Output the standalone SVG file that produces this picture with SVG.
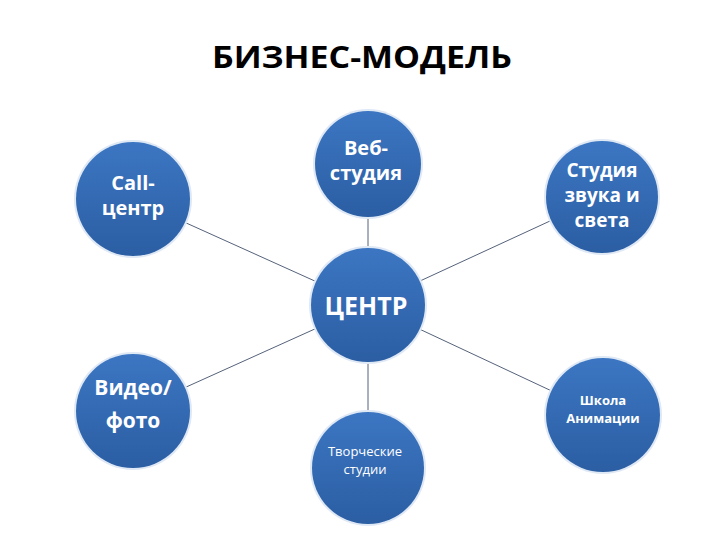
<svg xmlns="http://www.w3.org/2000/svg" width="720" height="540" viewBox="0 0 720 540">
<style>
.node{fill:url(#g);}
.halo{fill:#dfe8f5;}
.lbl{font-family:"Open Sans","Liberation Sans",sans-serif;fill:#ffffff;text-anchor:middle;font-weight:bold;}
.thin{font-weight:normal;}
.conn{stroke:#55627a;stroke-width:1;fill:none;}
.title{font-family:"Open Sans","Liberation Sans",sans-serif;font-weight:bold;font-size:31px;fill:#000;text-anchor:middle;}
</style>
<defs>
<linearGradient id="g" x1="0" y1="0" x2="0" y2="1">
<stop offset="0" stop-color="#3c76c2"/>
<stop offset="1" stop-color="#2b5ea3"/>
</linearGradient>
</defs>
<rect width="720" height="540" fill="#ffffff"/>
<text class="title" x="362" y="68" textLength="300" lengthAdjust="spacingAndGlyphs">БИЗНЕС-МОДЕЛЬ</text>
<g id="connectors">
<line class="conn" x1="368" y1="305" x2="368" y2="164"/>
<line class="conn" x1="368" y1="305" x2="133" y2="199"/>
<line class="conn" x1="368" y1="305" x2="602" y2="197"/>
<line class="conn" x1="368" y1="305" x2="133" y2="411"/>
<line class="conn" x1="368" y1="305" x2="603" y2="415"/>
<line class="conn" x1="368" y1="305" x2="368" y2="468"/>
</g>
<g id="node-center">
<circle class="halo" cx="368" cy="305" r="59"/>
<circle class="node" cx="368" cy="305" r="57"/>
<text class="lbl" x="366" y="315" font-size="25">ЦЕНТР</text>
</g>
<g id="node-web">
<circle class="halo" cx="368" cy="164" r="55"/>
<circle class="node" cx="368" cy="164" r="53"/>
<text class="lbl" x="366" y="155" font-size="20">Веб-</text>
<text class="lbl" x="366" y="180" font-size="20">студия</text>
</g>
<g id="node-call">
<circle class="halo" cx="133" cy="199" r="59"/>
<circle class="node" cx="133" cy="199" r="57"/>
<text class="lbl" x="133" y="190" font-size="20">Call-</text>
<text class="lbl" x="133" y="215" font-size="20">центр</text>
</g>
<g id="node-sound">
<circle class="halo" cx="602" cy="197" r="58"/>
<circle class="node" cx="602" cy="197" r="56"/>
<text class="lbl" x="602" y="177" font-size="19">Студия</text>
<text class="lbl" x="602" y="202" font-size="19">звука и</text>
<text class="lbl" x="602" y="227" font-size="19">света</text>
</g>
<g id="node-video">
<circle class="halo" cx="133" cy="411" r="59"/>
<circle class="node" cx="133" cy="411" r="57"/>
<text class="lbl" x="133" y="395" font-size="21">Видео/</text>
<text class="lbl" x="133" y="428" font-size="21">фото</text>
</g>
<g id="node-anim">
<circle class="halo" cx="603" cy="415" r="59"/>
<circle class="node" cx="603" cy="415" r="57"/>
<text class="lbl" x="603" y="405" font-size="13">Школа</text>
<text class="lbl" x="603" y="423" font-size="13">Анимации</text>
</g>
<g id="node-creative">
<circle class="halo" cx="368" cy="468" r="58"/>
<circle class="node" cx="368" cy="468" r="56"/>
<text class="lbl thin" x="365" y="456" font-size="13">Творческие</text>
<text class="lbl thin" x="365" y="474" font-size="13">студии</text>
</g>
</svg>
